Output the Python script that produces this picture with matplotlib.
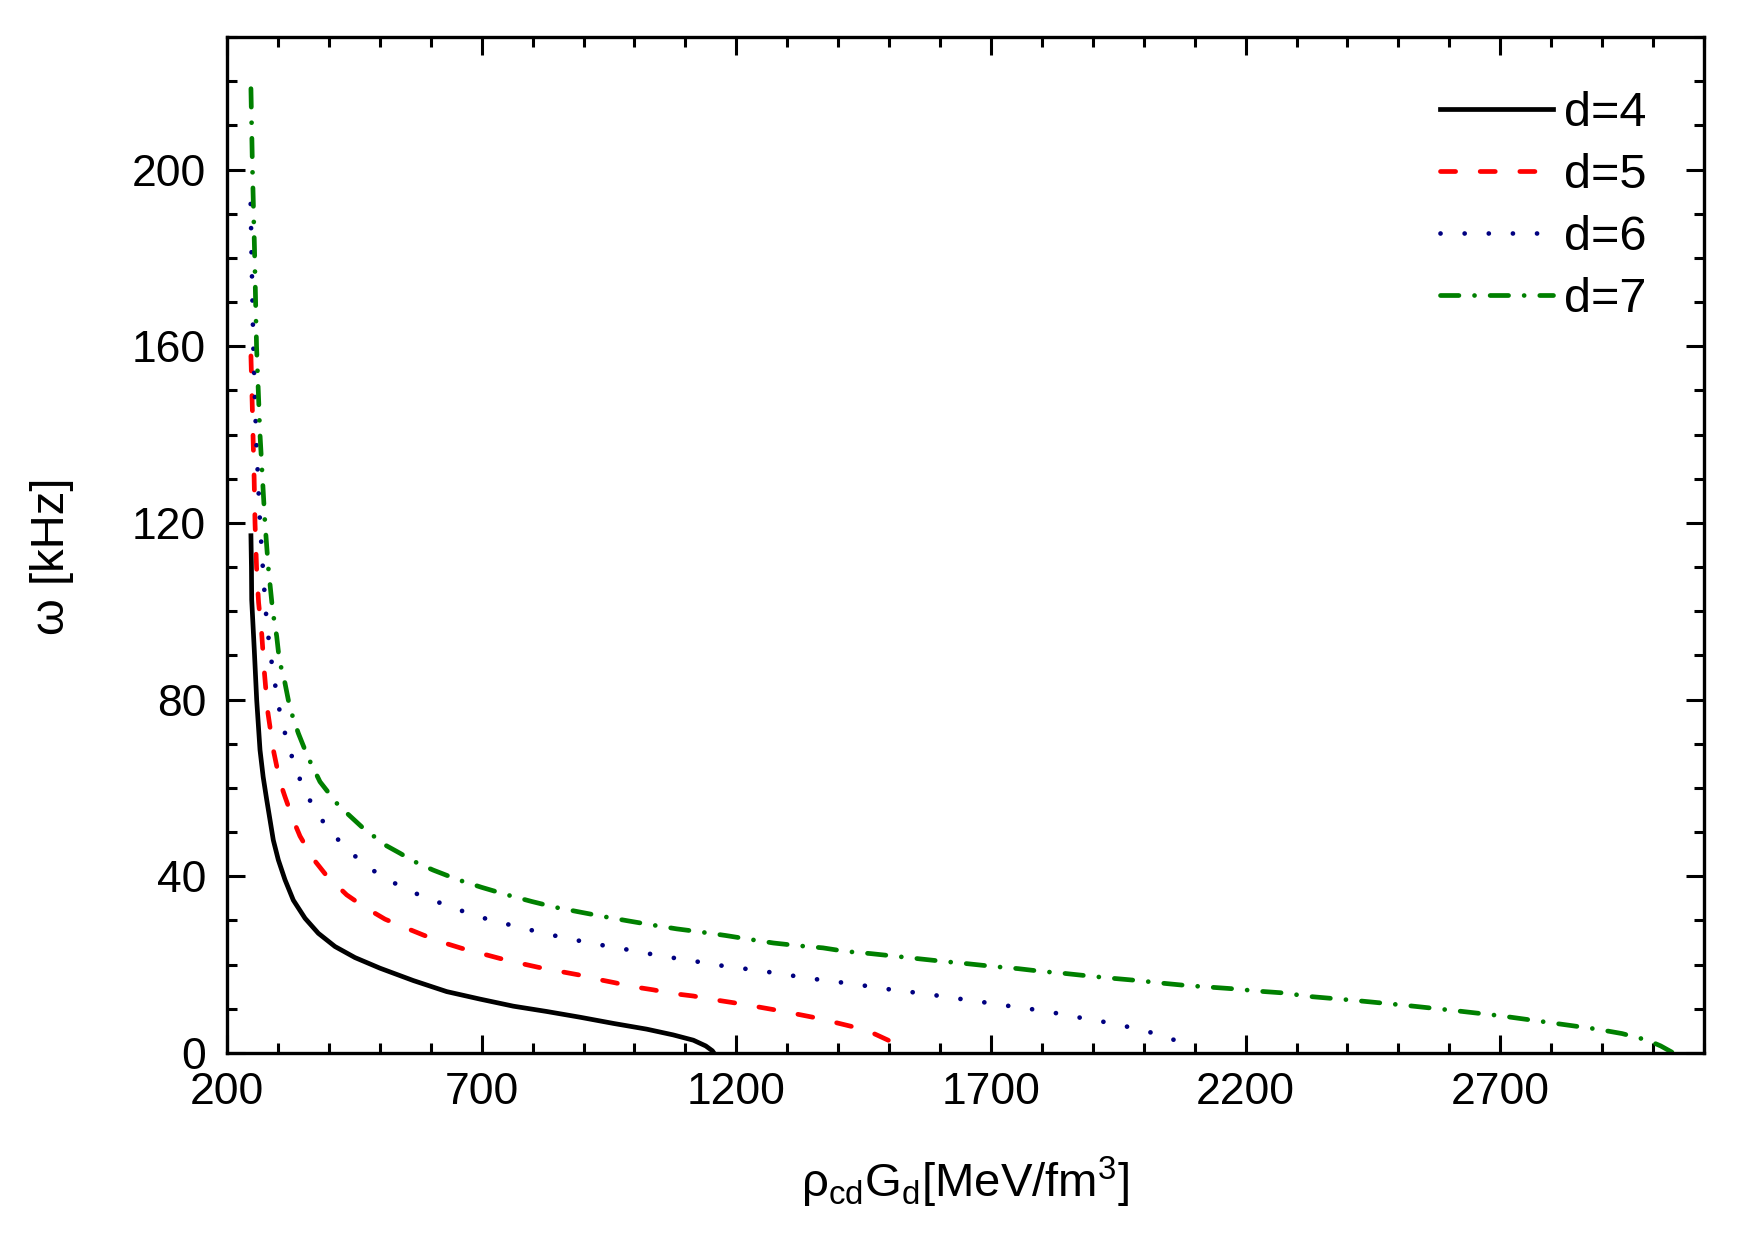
import matplotlib
matplotlib.use("Agg")
import matplotlib.pyplot as plt
from matplotlib.ticker import MultipleLocator

plt.rcParams['font.family'] = ['Liberation Sans', 'DejaVu Sans']
plt.rcParams['mathtext.fontset'] = 'custom'
plt.rcParams['mathtext.rm'] = 'Liberation Sans'
plt.rcParams['mathtext.it'] = 'Liberation Sans'
plt.rcParams['mathtext.default'] = 'regular'

labels = ["d=4", "d=5", "d=6", "d=7"]

x_d4 = [247, 248, 248.5, 251, 253.6, 258.3, 264.8, 271, 278, 284.4, 290.9, 300.8, 313.9, 330.2, 353.2, 379.3,
        412.1, 451.3, 500.4, 565.8, 631.4, 696.8, 762.2, 827.7, 893.1, 958.5, 1024, 1076, 1115.6, 1140,
        1153, 1156]
y_d4 = [117.1, 110, 102.6, 97, 91.2, 79.9, 68.6, 62.5, 57.3, 52.8, 48.2, 43.7, 39.2, 34.6, 30.5, 27.1,
        24.1, 21.6, 19.2, 16.4, 13.9, 12.2, 10.6, 9.4, 8.1, 6.7, 5.4, 4.1, 2.9, 1.6,
        0.5, 0]

x_d5 = [247, 249.4, 253.3, 255, 258, 262, 268.1, 273.3, 280, 291, 304, 313.9, 330.2, 343.3, 368.3, 394.4,
        435, 469, 510.2, 545, 585.5, 621.5, 660.8, 696.8, 736, 772, 811.3, 847.4, 889.8, 922.6, 961.8,
        997.8, 1037, 1073, 1115.6, 1148.4, 1205, 1284, 1359, 1434, 1470, 1500, 1525]
y_d5 = [157.8, 147.4, 130, 120, 110, 102, 95, 86.3, 77.3, 68.6, 61.4, 58, 52.7, 49.1, 44.1, 40.3,
        35.8, 33.1, 30.3, 28.6, 26.7, 25.1, 23.7, 22.6, 21.4, 20.4, 19.4, 18.6, 17.7, 16.8, 15.9,
        15, 14.3, 13.5, 12.9, 12.2, 11.2, 9.6, 7.9, 5.8, 4.4, 2.8, 0]

x_d6 = [246.5, 248, 251.7, 257, 264.8, 271.4, 274.6, 277.9, 283, 289, 296.2, 304.1, 315.2, 329, 345.3, 367.5,
        397.7, 439.5, 482.7, 529.9, 575, 620.2, 665.4, 711.1, 755.7, 801.4, 846, 891.8, 937, 981.5, 1027.3,
        1073, 1117.6, 1163, 1209, 1254, 1299, 1344, 1389, 1434, 1479, 1524, 1569, 1614, 1659, 1704, 1749,
        1794, 1839, 1884, 1929, 1974, 2019, 2064, 2080]
y_d6 = [192.2, 182, 160, 140, 120, 108, 102.6, 97.6, 92.5, 87.3, 82.2, 76.9, 71.8, 66.5, 61.3, 56.1,
        50.8, 45.7, 41.6, 38.4, 35.9, 33.9, 32, 30.3, 29, 27.7, 26.5, 25.4, 24.4, 23.5, 22.5,
        21.6, 20.8, 19.9, 19.2, 18.5, 17.7, 16.9, 16.2, 15.6, 14.7, 14.1, 13.4, 12.7, 11.9, 11.2, 10.4,
        9.7, 8.8, 7.8, 6.9, 5.8, 4.5, 2.8, 0]

x_d7 = [247, 250, 254, 258, 264.8, 274.6, 281, 289.7, 297.6, 302.7, 313.9, 323.7, 340, 358.4, 382.6, 418.5,
        464.5, 510.2, 540, 556, 575.6, 605, 654.2, 700, 750, 798.3, 844, 893.1, 938.9, 988, 1034, 1083,
        1130, 1179, 1228, 1273, 1321, 1370, 1415, 1464, 1513, 1561, 1610, 1655, 1704, 1753, 1798, 1846,
        1895, 1940, 1989, 2037, 2082, 2131, 2180, 2225, 2274, 2325, 2415, 2513, 2611, 2702, 2796, 2890,
        2939, 2989, 3015, 3040]
y_d7 = [218.3, 200, 182, 160, 140, 120, 110, 100.1, 94.3, 89, 83.7, 78, 72.4, 67.1, 61.4, 56.1,
        51.2, 47.1, 45.2, 44.1, 42.9, 41.4, 39.2, 37.5, 35.8, 34.3, 33, 31.9, 30.9, 29.9, 29, 28.1,
        27.4, 26.6, 25.7, 24.9, 24.3, 23.8, 23, 22.5, 21.9, 21.3, 20.7, 20.2, 19.6, 19.1, 18.5, 18,
        17.4, 16.9, 16.4, 15.8, 15.3, 14.9, 14.5, 14, 13.6, 12.8, 11.9, 10.8, 9.6, 8.4, 6.9, 5.4,
        4.4, 2.9, 1.6, 0]

x_ticks = [200, 700, 1200, 1700, 2200, 2700]
y_ticks = [0, 40, 80, 120, 160, 200]

fig = plt.figure(figsize=(17.55, 12.42), dpi=100)
ax = fig.add_axes([227/1755, 1-1053/1242, (1704-227)/1755, (1053-37)/1242])

lw = 3.4
ax.plot(x_d4, y_d4, color='black', lw=lw, ls='-', solid_joinstyle='round', label=labels[0])
ax.plot(x_d5, y_d5, color='#ff0000', lw=lw, ls=(0, (3.2, 5.2)), dash_capstyle='round', label=labels[1])
ax.plot(x_d6, y_d6, color='#000080', lw=lw, ls=(0, (0.01, 5.1)), dash_capstyle='round', label=labels[2])
ax.plot(x_d7, y_d7, color='#008000', lw=lw, ls=(0, (3.9, 3.3, 0.01, 3.3)), dash_capstyle='round', label=labels[3])

ax.set_xlim(200, 3100)
ax.set_ylim(0, 230)
ax.set_xticks(x_ticks)
ax.set_yticks(y_ticks)
ax.xaxis.set_minor_locator(MultipleLocator(100))
ax.yaxis.set_minor_locator(MultipleLocator(10))
ax.tick_params(which='both', direction='in', top=True, right=True, width=2.2)
ax.tick_params(which='major', length=13, labelsize=32)
ax.tick_params(axis='x', which='major', pad=14)
ax.tick_params(axis='y', which='major', pad=15)
ax.tick_params(which='minor', length=7)
for s in ax.spines.values():
    s.set_linewidth(2.4)

ax.set_xlabel(r'$\rho_{cd}G_d$[MeV/fm$^3$]', fontsize=34, labelpad=30)
ax.set_ylabel('ω [kHz]', fontsize=34, labelpad=42)
ax.yaxis.label.set_y(0.489)

leg = ax.legend(loc='upper left', bbox_to_anchor=(0.821, 0.947), frameon=False, fontsize=35,
                handlelength=2.33, handletextpad=0.23, labelspacing=0.35, borderpad=0, borderaxespad=0)

fig.savefig('out.png', dpi=100)
